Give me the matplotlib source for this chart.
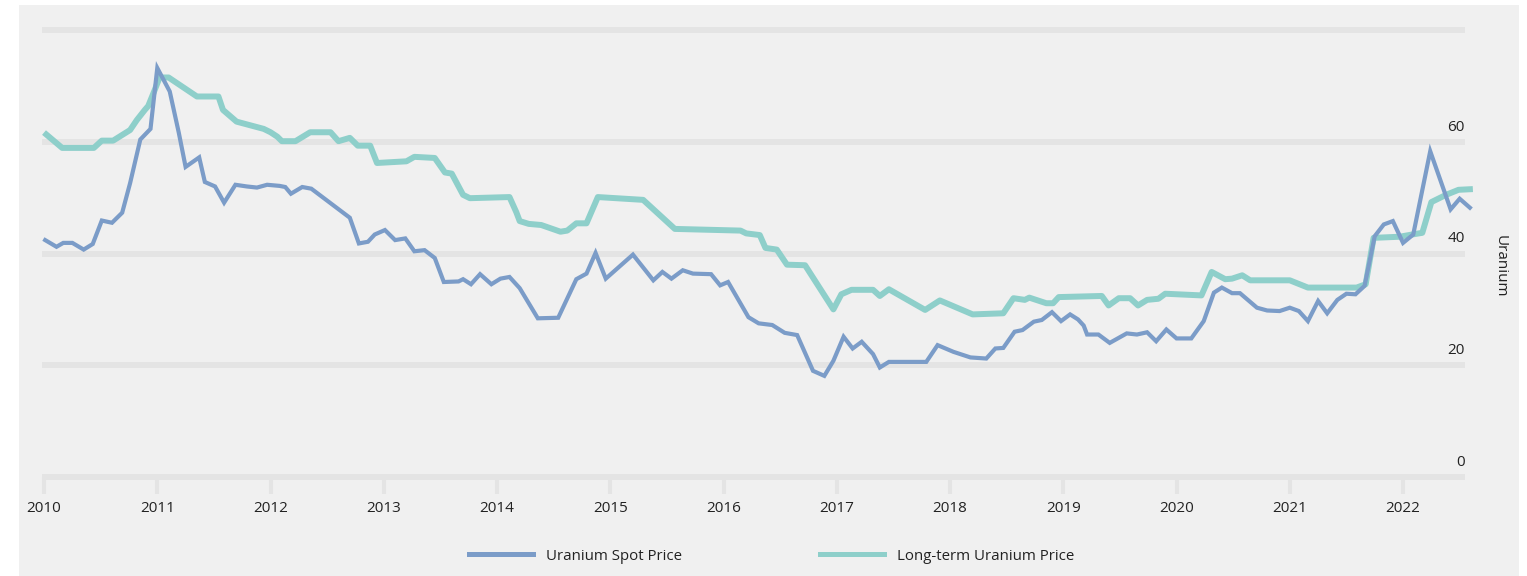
import matplotlib.pyplot as plt
from matplotlib.patches import Rectangle

# uranium spot price (vertex dates as decimal years, USD/lb)
spot_t = [2010.01, 2010.11, 2010.17, 2010.25, 2010.35, 2010.43, 2010.51, 2010.60,
          2010.69, 2010.76, 2010.85, 2010.94, 2011.00, 2011.11, 2011.19, 2011.25,
          2011.37, 2011.42, 2011.51, 2011.59, 2011.69, 2011.79, 2011.88, 2011.97,
          2012.08, 2012.13, 2012.18, 2012.28, 2012.36, 2012.70, 2012.78, 2012.86,
          2012.92, 2013.01, 2013.10, 2013.19, 2013.27, 2013.36, 2013.45, 2013.53,
          2013.66, 2013.70, 2013.77, 2013.85, 2013.95, 2014.03, 2014.11, 2014.20,
          2014.36, 2014.54, 2014.70, 2014.79, 2014.87, 2014.96, 2015.20, 2015.38,
          2015.46, 2015.54, 2015.64, 2015.73, 2015.89, 2015.97, 2016.04, 2016.22,
          2016.31, 2016.43, 2016.54, 2016.65, 2016.79, 2016.89, 2016.97, 2017.06,
          2017.14, 2017.22, 2017.32, 2017.38, 2017.46, 2017.79, 2017.89, 2018.03,
          2018.18, 2018.32, 2018.40, 2018.47, 2018.57, 2018.64, 2018.74, 2018.81,
          2018.90, 2018.98, 2019.06, 2019.13, 2019.18, 2019.21, 2019.31, 2019.41,
          2019.56, 2019.65, 2019.74, 2019.82, 2019.91, 2020.00, 2020.13, 2020.24,
          2020.33, 2020.40, 2020.49, 2020.56, 2020.71, 2020.80, 2020.91, 2021.00,
          2021.08, 2021.16, 2021.25, 2021.33, 2021.42, 2021.50, 2021.58, 2021.66,
          2021.75, 2021.83, 2021.91, 2022.00, 2022.09, 2022.24, 2022.42, 2022.50,
          2022.59]
spot_v = [42.4, 41.2, 41.9, 41.9, 40.7, 41.7, 45.9, 45.5,
          47.3, 52.6, 60.4, 62.3, 73.2, 69.0, 61.6, 55.5,
          57.2, 52.8, 52.0, 49.1, 52.3, 52.0, 51.8, 52.3,
          52.1, 51.9, 50.7, 51.9, 51.6, 46.4, 41.8, 42.1,
          43.4, 44.2, 42.4, 42.7, 40.4, 40.6, 39.2, 34.9,
          35.0, 35.4, 34.5, 36.3, 34.5, 35.5, 35.8, 33.8,
          28.4, 28.5, 35.4, 36.4, 40.1, 35.5, 39.8, 35.2,
          36.7, 35.5, 37.0, 36.4, 36.3, 34.3, 34.9, 28.6,
          27.5, 27.2, 25.8, 25.4, 19.0, 18.1, 20.8, 25.1,
          23.0, 24.2, 22.0, 19.6, 20.6, 20.6, 23.6, 22.4,
          21.4, 21.2, 23.0, 23.1, 26.0, 26.3, 27.8, 28.1,
          29.5, 27.9, 29.1, 28.2, 27.1, 25.5, 25.5, 24.0,
          25.7, 25.5, 25.9, 24.3, 26.4, 24.8, 24.8, 27.9,
          33.0, 33.9, 32.9, 32.9, 30.3, 29.8, 29.7, 30.3,
          29.7, 27.9, 31.5, 29.3, 31.7, 32.8, 32.7, 34.2,
          43.1, 45.2, 45.8, 41.9, 43.4, 58.3, 47.9, 49.8,
          48.2]

# long-term uranium price
lt_t = [2010.02, 2010.16, 2010.44, 2010.51, 2010.61, 2010.76, 2010.82, 2010.89,
        2010.92, 2010.98, 2011.02, 2011.10, 2011.35, 2011.54, 2011.58, 2011.70,
        2011.94, 2012.00, 2012.06, 2012.10, 2012.22, 2012.35, 2012.53, 2012.60,
        2012.70, 2012.77, 2012.88, 2012.94, 2013.20, 2013.27, 2013.45, 2013.54,
        2013.60, 2013.70, 2013.76, 2014.11, 2014.17, 2014.20, 2014.28, 2014.39,
        2014.56, 2014.62, 2014.70, 2014.79, 2014.89, 2015.29, 2015.57, 2016.15,
        2016.20, 2016.32, 2016.37, 2016.47, 2016.56, 2016.72, 2016.97, 2017.04,
        2017.13, 2017.32, 2017.38, 2017.46, 2017.78, 2017.91, 2018.20, 2018.47,
        2018.56, 2018.66, 2018.70, 2018.85, 2018.91, 2018.96, 2019.34, 2019.40,
        2019.49, 2019.59, 2019.66, 2019.74, 2019.84, 2019.90, 2020.22, 2020.31,
        2020.43, 2020.49, 2020.58, 2020.65, 2021.00, 2021.16, 2021.59, 2021.67,
        2021.74, 2021.97, 2022.08, 2022.17, 2022.25, 2022.38, 2022.49, 2022.59]
lt_v = [61.3, 58.9, 58.9, 60.2, 60.2, 62.1, 63.9, 65.7,
        66.4, 69.4, 71.5, 71.5, 68.1, 68.1, 65.7, 63.6,
        62.3, 61.7, 60.9, 60.1, 60.1, 61.7, 61.7, 60.1,
        60.7, 59.3, 59.3, 56.2, 56.5, 57.3, 57.1, 54.5,
        54.3, 50.5, 49.9, 50.1, 47.4, 45.8, 45.3, 45.1,
        43.9, 44.1, 45.4, 45.4, 50.1, 49.6, 44.4, 44.1,
        43.6, 43.3, 41.0, 40.7, 38.0, 37.9, 30.0, 32.7,
        33.5, 33.5, 32.4, 33.6, 29.9, 31.6, 29.1, 29.3,
        32.0, 31.7, 32.1, 31.1, 31.1, 32.2, 32.4, 30.7,
        32.0, 32.0, 30.7, 31.7, 31.9, 32.8, 32.5, 36.7,
        35.4, 35.5, 36.1, 35.2, 35.2, 33.9, 33.9, 34.5,
        42.8, 43.0, 43.4, 43.7, 49.2, 50.5, 51.4, 51.5]

years = list(range(2010, 2023))
y_ticks = [0, 20, 40, 60, 80]
y_labels = [0, 20, 40, 60]

BG = '#f0f0f0'
GRID = '#e4e4e4'
SPOT = '#7b9cc8'
LT = '#8ecfca'
TXT = '#222222'

plt.rcParams['font.family'] = ['Open Sans', 'DejaVu Sans']

fig = plt.figure(figsize=(15.27, 5.76), dpi=100, facecolor='white')
fig.patches.append(Rectangle((19 / 1527, 0), 1500 / 1527, 571 / 576,
                             transform=fig.transFigure, facecolor=BG,
                             edgecolor='none', zorder=-10))

ax = fig.add_axes([42 / 1527, 1 - 477 / 576, 1423 / 1527, 447 / 576])
ax.set_facecolor('none')
ax.set_xlim(2009.982, 2022.547)
ax.set_ylim(0, 80)

ax.set_yticks(y_ticks)
ax.tick_params(axis='y', length=0, labelleft=False)
ax.grid(axis='y', color=GRID, linewidth=4.3, solid_capstyle='butt')
for gl in ax.get_ygridlines():
    gl.set_clip_on(False)

ax.set_xticks(years)
ax.set_xticklabels([str(y) for y in years])
ax.tick_params(axis='x', length=12, width=3, color=GRID, pad=5,
               labelsize=11, labelcolor=TXT)
for s in ax.spines.values():
    s.set_visible(False)

for v in y_labels:
    ax.annotate(str(v), xy=(1, v), xycoords=('axes fraction', 'data'),
                xytext=(0, 8), textcoords='offset points',
                ha='right', va='baseline', fontsize=11, color=TXT)

ax.plot(lt_t, lt_v, color=LT, linewidth=4.3, solid_joinstyle='round',
        clip_on=False, label='Long-term Uranium Price', zorder=3)
ax.plot(spot_t, spot_v, color=SPOT, linewidth=3.0, solid_joinstyle='miter',
        clip_on=False, label='Uranium Spot Price', zorder=4)

fig.text(1500 / 1527, 1 - 266 / 576, 'Uranium', rotation=270,
         ha='center', va='center', fontsize=11, color=TXT)

h, l = ax.get_legend_handles_labels()
leg = fig.legend([h[1], h[0]], [l[1], l[0]], loc='center left',
                 bbox_to_anchor=(455 / 1527, 1 - 556 / 576), ncol=2,
                 frameon=False, fontsize=10.8, handlelength=4.3,
                 handletextpad=0.85, columnspacing=9.2)
for line in leg.get_lines():
    line.set_linewidth(3.6)
for t in leg.get_texts():
    t.set_color(TXT)

fig.savefig('out.png', dpi=100, facecolor=fig.get_facecolor())
